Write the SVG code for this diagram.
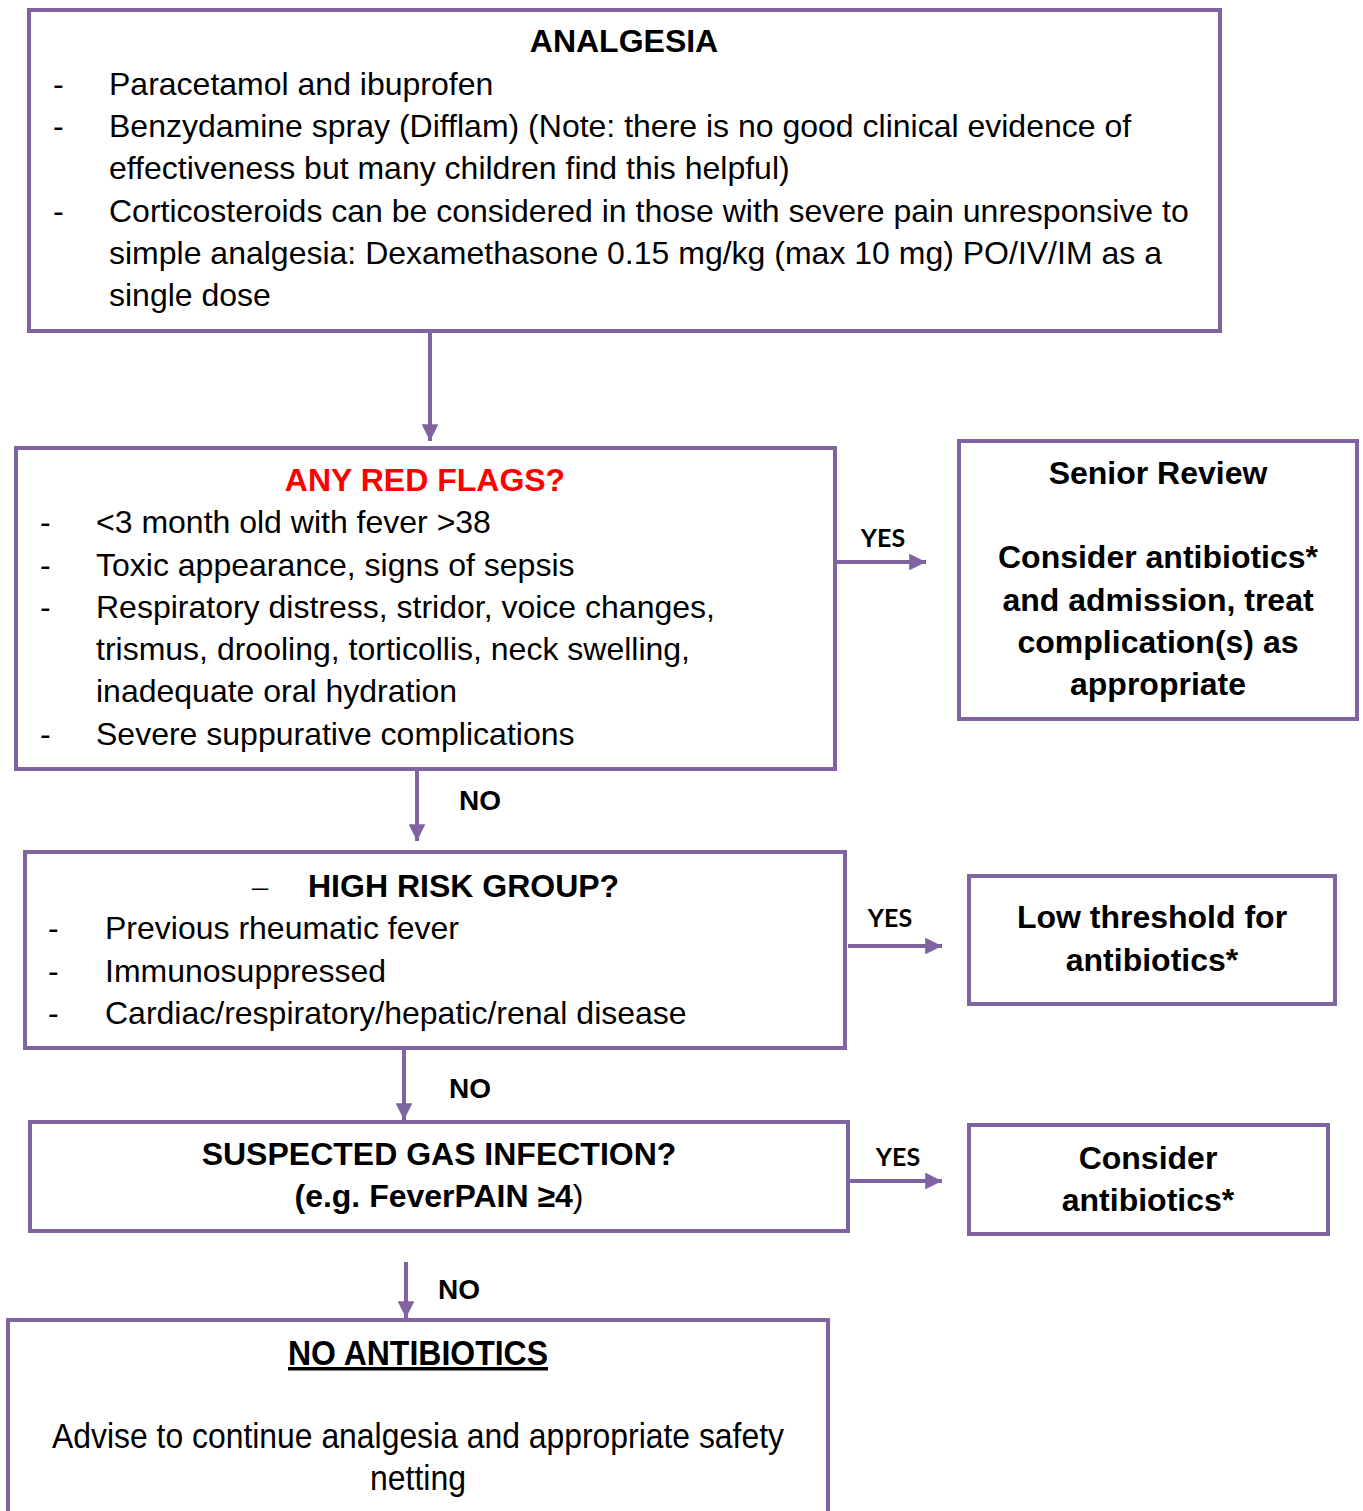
<svg xmlns="http://www.w3.org/2000/svg" width="1363" height="1511" viewBox="0 0 1363 1511">
<style>
.box{fill:#fff;stroke:#8064A2;stroke-width:4}
.t{font-family:"Liberation Sans",Arial,sans-serif;font-size:32px;fill:#000}
.b{font-weight:bold}
.c{text-anchor:middle}
.y{font-family:Lato,"Liberation Sans",sans-serif;font-weight:bold;font-size:25px;fill:#000;text-anchor:middle}
.no{font-family:"Liberation Sans",Arial,sans-serif;font-weight:bold;font-size:28px;fill:#000}
.n{font-family:"Liberation Sans Narrow","Liberation Sans",sans-serif;font-size:35px;fill:#000;text-anchor:middle}
.ln{stroke:#8064A2;stroke-width:4;fill:none}
</style>
<defs>
<marker id="ah" viewBox="0 0 10 10" refX="10" refY="5" markerWidth="4.2" markerHeight="4.2" markerUnits="strokeWidth" orient="auto">
<path d="M0,0 L10,5 L0,10 z" fill="#8064A2"/>
</marker>
</defs>
<rect width="1363" height="1511" fill="#fff"/>
<g id="connectors">
<line class="ln" x1="430" y1="331" x2="430" y2="441" marker-end="url(#ah)"/>
<line class="ln" x1="835" y1="562" x2="926" y2="562" marker-end="url(#ah)"/>
<text class="y" x="883" y="547">YES</text>
<line class="ln" x1="417" y1="769" x2="417" y2="841" marker-end="url(#ah)"/>
<text class="no" x="459" y="810">NO</text>
<line class="ln" x1="848" y1="946" x2="942" y2="946" marker-end="url(#ah)"/>
<text class="y" x="890" y="927">YES</text>
<line class="ln" x1="404" y1="1048" x2="404" y2="1120" marker-end="url(#ah)"/>
<text class="no" x="449" y="1098">NO</text>
<line class="ln" x1="850" y1="1181" x2="942" y2="1181" marker-end="url(#ah)"/>
<text class="y" x="898" y="1166">YES</text>
<line class="ln" x1="406" y1="1262" x2="406" y2="1318" marker-end="url(#ah)"/>
<text class="no" x="438" y="1299">NO</text>
</g>
<g id="analgesia">
<rect class="box" x="29" y="10" width="1191" height="321"/>
<text class="t b c" x="624" y="52">ANALGESIA</text>
<text class="t" x="53" y="95">-</text><text class="t" x="109" y="95">Paracetamol and ibuprofen</text>
<text class="t" x="53" y="137">-</text><text class="t" x="109" y="137">Benzydamine spray (Difflam) (Note: there is no good clinical evidence of</text>
<text class="t" x="109" y="179">effectiveness but many children find this helpful)</text>
<text class="t" x="53" y="222">-</text><text class="t" x="109" y="222">Corticosteroids can be considered in those with severe pain unresponsive to</text>
<text class="t" x="109" y="264">simple analgesia: Dexamethasone 0.15 mg/kg (max 10 mg) PO/IV/IM as a</text>
<text class="t" x="109" y="306">single dose</text>
</g>
<g id="red-flags">
<rect class="box" x="16" y="448" width="819" height="321"/>
<text class="t b c" x="425" y="491" style="fill:#FF0000">ANY RED FLAGS?</text>
<text class="t" x="40" y="533">-</text><text class="t" x="96" y="533">&lt;3 month old with fever &gt;38</text>
<text class="t" x="40" y="576">-</text><text class="t" x="96" y="576">Toxic appearance, signs of sepsis</text>
<text class="t" x="40" y="618">-</text><text class="t" x="96" y="618">Respiratory distress, stridor, voice changes,</text>
<text class="t" x="96" y="660">trismus, drooling, torticollis, neck swelling,</text>
<text class="t" x="96" y="702">inadequate oral hydration</text>
<text class="t" x="40" y="745">-</text><text class="t" x="96" y="745">Severe suppurative complications</text>
</g>
<g id="senior-review">
<rect class="box" x="959" y="441" width="398" height="278"/>
<text class="t b c" x="1158" y="484">Senior Review</text>
<text class="t b c" x="1158" y="568">Consider antibiotics*</text>
<text class="t b c" x="1158" y="611">and admission, treat</text>
<text class="t b c" x="1158" y="653">complication(s) as</text>
<text class="t b c" x="1158" y="695">appropriate</text>
</g>
<g id="high-risk">
<rect class="box" x="25" y="852" width="820" height="196"/>
<text class="t" x="252" y="897" style="font-family:'Liberation Serif',serif">–</text>
<text class="t b" x="308" y="897">HIGH RISK GROUP?</text>
<text class="t" x="48" y="939">-</text><text class="t" x="105" y="939">Previous rheumatic fever</text>
<text class="t" x="48" y="982">-</text><text class="t" x="105" y="982">Immunosuppressed</text>
<text class="t" x="48" y="1024">-</text><text class="t" x="105" y="1024">Cardiac/respiratory/hepatic/renal disease</text>
</g>
<g id="low-threshold">
<rect class="box" x="969" y="876" width="366" height="128"/>
<text class="t b c" x="1152" y="928">Low threshold for</text>
<text class="t b c" x="1152" y="971">antibiotics*</text>
</g>
<g id="gas-infection">
<rect class="box" x="30" y="1122" width="818" height="109"/>
<text class="t b c" x="439" y="1165">SUSPECTED GAS INFECTION?</text>
<text class="t b c" x="439" y="1207">(e.g. FeverPAIN ≥4<tspan font-weight="normal">)</tspan></text>
</g>
<g id="consider-antibiotics">
<rect class="box" x="969" y="1125" width="359" height="109"/>
<text class="t b c" x="1148" y="1169">Consider</text>
<text class="t b c" x="1148" y="1211">antibiotics*</text>
</g>
<g id="no-antibiotics">
<rect class="box" x="8" y="1320" width="820" height="200"/>
<text class="n" x="418" y="1365" font-weight="bold" text-decoration="underline" textLength="260" lengthAdjust="spacingAndGlyphs">NO ANTIBIOTICS</text>
<text class="n" x="418" y="1448" textLength="732" lengthAdjust="spacingAndGlyphs">Advise to continue analgesia and appropriate safety</text>
<text class="n" x="418" y="1490" textLength="96" lengthAdjust="spacingAndGlyphs">netting</text>
</g>
</svg>
